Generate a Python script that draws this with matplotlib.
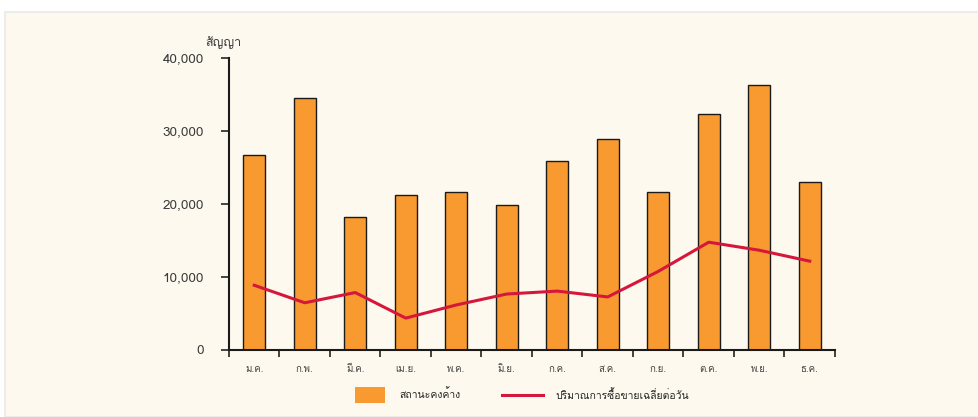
import matplotlib
matplotlib.use("Agg")
import matplotlib.pyplot as plt
from matplotlib import font_manager, ft2font
from matplotlib.patches import Rectangle
from matplotlib.lines import Line2D
import numpy as np

months = ["ม.ค.", "ก.พ.", "มี.ค.", "เม.ย.", "พ.ค.", "มิ.ย.",
          "ก.ค.", "ส.ค.", "ก.ย.", "ต.ค.", "พ.ย.", "ธ.ค."]
open_interest = [26600, 34500, 18200, 21100, 21600, 19800,
                 25800, 28800, 21600, 32300, 36200, 23000]
daily_volume = [8800, 6400, 7800, 4300, 6100, 7600,
                8000, 7200, 10700, 14700, 13600, 12100]
yticks = [0, 10000, 20000, 30000, 40000]
ytick_labels = ["0", "10,000", "20,000", "30,000", "40,000"]
y_unit = "สัญญา"
legend_bar = "สถานะคงค้าง"
legend_line = "ปริมาณการซื้อขายเฉลี่ยต่อวัน"

# find a font with Thai glyphs
thai_fonts = []
seen = set()
for f in font_manager.fontManager.ttflist:
    if f.name in seen:
        continue
    try:
        cm = ft2font.FT2Font(f.fname).get_charmap()
        if 0x0E2A in cm and 0x0E0D in cm:
            thai_fonts.append(f.name)
            seen.add(f.name)
    except Exception:
        pass
families = thai_fonts[:1] + ["DejaVu Sans"]
plt.rcParams['font.family'] = families

W, H = 979, 417
BAR_C = "#f99a30"
LINE_C = "#d6173c"
fig = plt.figure(figsize=(W / 100, H / 100), dpi=100)
fig.patch.set_facecolor("white")
fig.patches.append(Rectangle((5 / W, 0), 1, 1 - 12 / H, transform=fig.transFigure,
                             facecolor="#fdf9ee", edgecolor="#ececec", lw=1.5, zorder=-10))

ax = fig.add_axes([229 / W, 1 - 349.5 / H, (835 - 229) / W, (349.5 - 57.5) / H])
ax.set_facecolor("none")

x = np.arange(len(months))
ax.bar(x, open_interest, width=0.44, color=BAR_C, edgecolor="#1a1a1a", lw=1.0, zorder=2)
ax.plot(x, daily_volume, color=LINE_C, lw=2.2, zorder=3)

ax.set_xlim(-0.5, len(months) - 0.5)
ax.set_ylim(0, 40000)
ax.set_yticks(yticks)
ax.set_yticklabels(ytick_labels)
ax.set_xticks(np.arange(len(months) + 1) - 0.5)
ax.set_xticklabels([])
ax.set_xticks(x, minor=True)
ax.set_xticklabels(months, minor=True)
ax.tick_params(axis="x", which="major", direction="out", length=5, width=1.2, color="#222222")
ax.tick_params(axis="x", which="minor", length=0, pad=11, labelsize=7, labelcolor="#444444")
ax.tick_params(axis="y", direction="out", length=6, width=1.4, color="#444444",
               labelsize=9.7, labelcolor="#3a3a3a", pad=12)

for s in ["top", "right"]:
    ax.spines[s].set_visible(False)
for s in ["left", "bottom"]:
    ax.spines[s].set_linewidth(1.5)
    ax.spines[s].set_color("#1a1a1a")

ax.text(-0.01, 1.053, y_unit, transform=ax.transAxes, ha="center", va="center",
        fontsize=9, color="#3a3a3a")

leg1 = fig.legend([Rectangle((0, 0), 1, 1, facecolor=BAR_C, edgecolor="none")], [legend_bar],
                  loc="center left", bbox_to_anchor=(355 / W, 1 - 395 / H), frameon=False,
                  fontsize=7.5, handlelength=2.9, handleheight=1.9, handletextpad=1.4,
                  borderpad=0, borderaxespad=0, labelcolor="#222222")
leg2 = fig.legend([Line2D([0], [0], color=LINE_C, lw=2.2)], [legend_line],
                  loc="center left", bbox_to_anchor=(502 / W, 1 - 395 / H), frameon=False,
                  fontsize=7.5, handlelength=3.9, handletextpad=1.2,
                  borderpad=0, borderaxespad=0, labelcolor="#222222")

fig.savefig("out.png", dpi=100, facecolor=fig.get_facecolor())
